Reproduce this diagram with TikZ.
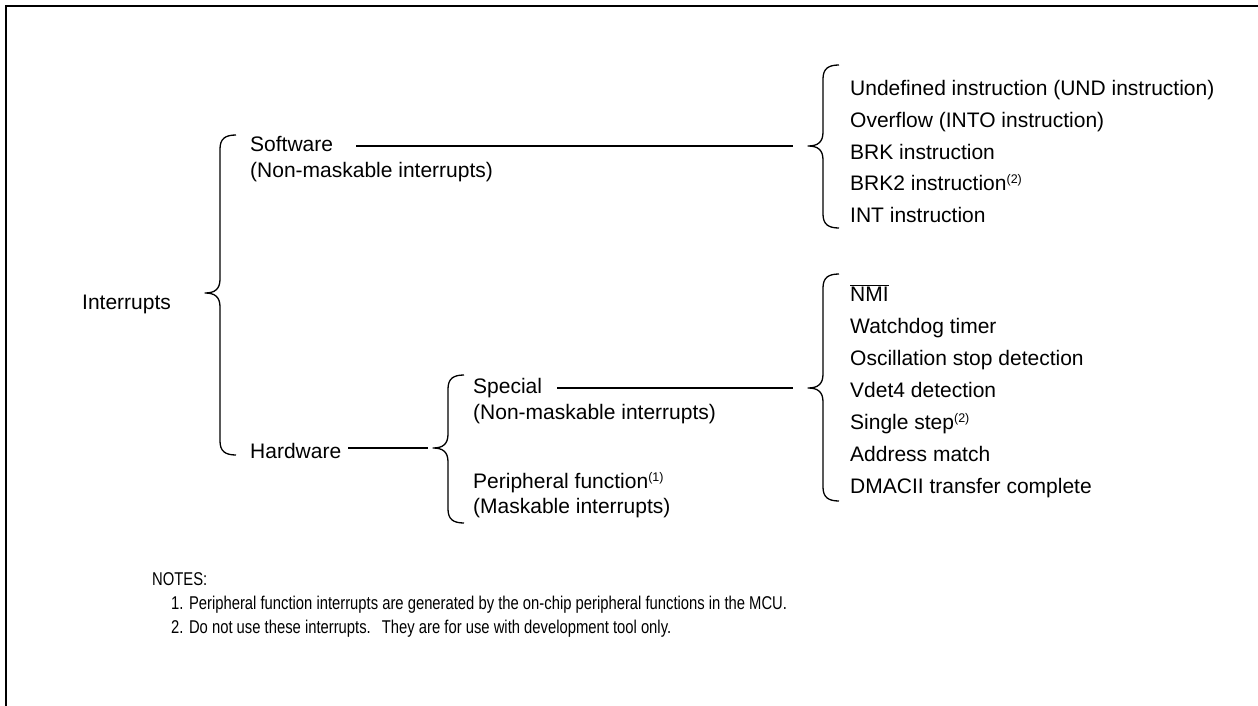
\documentclass[tikz,border=0pt]{standalone}
\usepackage{fontspec}
\setmainfont{Liberation Sans}
\newfontfamily\notesfont[FakeStretch=0.80]{Liberation Sans}
\newcommand\supnum[1]{\raisebox{7pt}{\fontsize{12.5}{12.5}\selectfont(#1)}}
% #1 tip x, #2 tip y, #3 top y, #4 bottom y
\newcommand\drawbrace[4]{%
  \draw[bracestyle] (#1+31,#3) .. controls (#1+20,#3) and (#1+15,#3+4) .. (#1+15,#3+14)
    -- (#1+15,#2-14) .. controls (#1+15,#2-4) and (#1+10,#2) .. (#1,#2)
    .. controls (#1+10,#2) and (#1+15,#2+4) .. (#1+15,#2+14)
    -- (#1+15,#4-14) .. controls (#1+15,#4-4) and (#1+20,#4) .. (#1+31,#4);}
\begin{document}
\begin{tikzpicture}[x=1pt,y=-1pt,
  txt/.style={anchor=base west, inner sep=0pt, font=\fontsize{21}{24}\selectfont},
  note/.style={anchor=base west, inner sep=0pt, font=\notesfont\fontsize{18.5}{22}\selectfont},
  link/.style={line width=1.3pt},
  bracestyle/.style={line width=1.3pt, line join=round}]
\useasboundingbox (0,0) rectangle (1258,706);
\draw[line width=2pt] (6,707) -- (6,6) -- (1259,6);

% brace tips
\coordinate (b1) at (205,293);
\coordinate (b2) at (433,448);
\coordinate (b3) at (808,146);
\coordinate (b4) at (808,388);

\drawbrace{205}{293}{135}{455}
\drawbrace{433}{448}{375}{523}
\drawbrace{808}{146}{65}{228}
\drawbrace{808}{388}{274}{501}

% left texts
\node[txt] (int) at (82,309) {Interrupts};
\node[txt] (sw) at (250,151) {Software};
\node[txt] (swn) at (250,177) {(Non-maskable interrupts)};
\node[txt] (hw) at (250,458) {Hardware};
\node[txt] (sp) at (473,393) {Special};
\node[txt] (spn) at (473,419) {(Non-maskable interrupts)};
\node[txt] (pf) at (473,488) {Peripheral function\supnum{1}};
\node[txt] (pfn) at (473,513) {(Maskable interrupts)};

% connectors
\coordinate (swl) at (356,146);
\coordinate (hwl) at (348,448);
\coordinate (spl) at (557,388);
\draw[link] (swl) -- ([xshift=-15pt]b3);
\draw[link] (hwl) -- ([xshift=-5pt]b2);
\draw[link] (spl) -- ([xshift=-15pt]b4);

% software list
\node[txt] (s1) at (850,96) {Undefined instruction (UND instruction)};
\node[txt] (s2) at (850,127.6) {Overflow (INTO instruction)};
\node[txt] (s3) at (850,159.2) {BRK instruction};
\node[txt] (s4) at (850,190.8) {BRK2 instruction\supnum{2}};
\node[txt] (s5) at (850,222.4) {INT instruction};

% hardware list
\node[txt] (h1) at (850,301) {$\overline{\mbox{NMI}}$};
\node[txt] (h2) at (850,333) {Watchdog timer};
\node[txt] (h3) at (850,365) {Oscillation stop detection};
\node[txt] (h4) at (850,397.5) {Vdet4 detection};
\node[txt] (h5) at (850,429) {Single step\supnum{2}};
\node[txt] (h6) at (850,461) {Address match};
\node[txt] (h7) at (850,493) {DMACII transfer complete};

% notes
\node[note] (nh) at (152,585) {NOTES:};
\node[note] (n1) at (171,609) {1. Peripheral function interrupts are generated by the on-chip peripheral functions in the MCU.};
\node[note] (n2) at (171,633) {2. Do not use these interrupts.\hspace{0.6em}They are for use with development tool only.};
\end{tikzpicture}
\end{document}
